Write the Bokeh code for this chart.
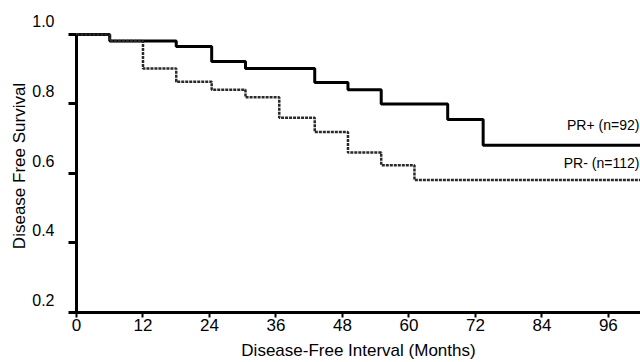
from bokeh.plotting import figure
from bokeh.models import Range1d, LinearAxis, FixedTicker, Label
from bokeh.embed import file_html
from bokeh.resources import INLINE

# Data (months, disease-free survival)
pr_pos_months = [0, 6, 18, 24.4, 30.5, 43, 49, 55, 67, 73.4, 102]
pr_pos_surv = [1.0, 0.981, 0.965, 0.922, 0.902, 0.862, 0.841, 0.80, 0.755, 0.681, 0.681]
pr_neg_months = [0, 6, 12, 18, 24.4, 30.5, 36.6, 43, 49, 55, 61, 102]
pr_neg_surv = [1.0, 0.981, 0.902, 0.864, 0.841, 0.819, 0.76, 0.719, 0.66, 0.624, 0.581, 0.581]

x_ticks = [0, 12, 24, 36, 48, 60, 72, 84, 96]
y_ticks = [0.2, 0.4, 0.6, 0.8, 1.0]
y_tick_labels = ["0.2", "0.4", "0.6", "0.8", "1.0"]
series_labels = ["PR+ (n=92)", "PR- (n=112)"]

FONT = "Liberation Sans"
PX_PER_UNIT = 348.75
Y_TOP = 1.0 + 15 / PX_PER_UNIT
LAB_SHIFT = 13 / PX_PER_UNIT

p = figure(width=640, height=362, output_backend="svg", toolbar_location=None,
           x_range=Range1d(0, 101.8), y_range=Range1d(0.2, Y_TOP),
           min_border_left=76, min_border_right=0, min_border_top=19, min_border_bottom=49,
           background_fill_color="white", border_fill_color="white")
p.outline_line_color = None
p.grid.visible = False
p.extra_y_ranges = {"lab": Range1d(0.2 - LAB_SHIFT, Y_TOP - LAB_SHIFT)}

# x axis
xa = p.xaxis[0]
xa.ticker = FixedTicker(ticks=x_ticks)
xa.axis_line_width = 3
xa.axis_line_color = "black"
xa.major_tick_line_width = 2
xa.major_tick_line_color = "black"
xa.major_tick_in = 0
xa.major_tick_out = 5
xa.minor_tick_line_color = None
xa.major_label_standoff = 1
xa.major_label_text_font = FONT
xa.major_label_text_font_size = "17px"
xa.major_label_text_color = "black"
xa.axis_label = "Disease-Free Interval (Months)"
xa.axis_label_text_font = FONT
xa.axis_label_text_font_size = "17px"
xa.axis_label_text_font_style = "normal"
xa.axis_label_text_color = "black"
xa.axis_label_standoff = 7

# main y axis: line and ticks only
ya = p.yaxis[0]
ya.ticker = FixedTicker(ticks=y_ticks)
ya.bounds = (0.2, 1.0)
ya.axis_line_width = 3
ya.axis_line_color = "black"
ya.major_tick_line_width = 3
ya.major_tick_line_color = "black"
ya.major_tick_in = 0
ya.major_tick_out = 8
ya.minor_tick_line_color = None
ya.major_label_text_font_size = "1px"
ya.major_label_text_alpha = 0
ya.major_label_standoff = 0

# label axis (labels sit a little above their ticks as in the original)
la = LinearAxis(y_range_name="lab", ticker=FixedTicker(ticks=y_ticks))
la.major_label_overrides = {t: s for t, s in zip(y_ticks, y_tick_labels)}
la.axis_line_color = None
la.major_tick_line_color = None
la.minor_tick_line_color = None
la.major_tick_in = 0
la.major_tick_out = 0
la.major_label_standoff = 14
la.major_label_text_font = FONT
la.major_label_text_font_size = "16px"
la.major_label_text_color = "black"
la.axis_label = "Disease Free Survival"
la.axis_label_text_font = FONT
la.axis_label_text_font_size = "17px"
la.axis_label_text_font_style = "normal"
la.axis_label_text_color = "black"
la.axis_label_standoff = 0
p.add_layout(la, "left")

p.step(pr_pos_months, pr_pos_surv, mode="after", line_width=3, line_color="black")
p.step(pr_neg_months, pr_neg_surv, mode="after", line_width=2.5, line_color="#2a2a2a",
       line_dash="3 1")

p.add_layout(Label(x=101.6, y=0.74, text=series_labels[0], text_align="right",
                   text_baseline="middle", text_font=FONT, text_font_size="14px",
                   text_color="black"))
p.add_layout(Label(x=101.6, y=0.631, text=series_labels[1], text_align="right",
                   text_baseline="middle", text_font=FONT, text_font_size="14px",
                   text_color="black"))

open("out.html", "w").write(file_html(p, INLINE))
